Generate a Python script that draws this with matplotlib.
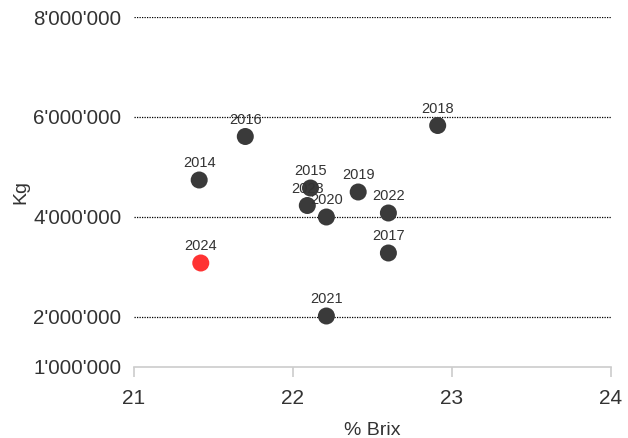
import numpy as np
import matplotlib.pyplot as plt

plt.rcParams['font.family'] = ['Liberation Sans', 'DejaVu Sans']

# values
years = ['2014', '2015', '2016', '2017', '2018', '2019', '2020', '2021', '2022', '2023', '2024']
brix = [21.41, 22.11, 21.70, 22.60, 22.91, 22.41, 22.21, 22.21, 22.60, 22.09, 21.42]
kg = [4.74e6, 4.58e6, 5.61e6, 3.28e6, 5.83e6, 4.50e6, 4.00e6, 2.02e6, 4.08e6, 4.23e6, 3.08e6]

yticks = [1e6, 2e6, 4e6, 6e6, 8e6]
ytick_labels = ["1'000'000", "2'000'000", "4'000'000", "6'000'000", "8'000'000"]
xticks = [21, 22, 23, 24]

colors = ['#ff3333' if y == '2024' else '#3a3a3a' for y in years]

fig = plt.figure(figsize=(6.28, 4.38), dpi=100)
ax = fig.add_axes([134/628, 1 - 367/438, (611-134)/628, (367-17)/438])

ax.scatter(brix, kg, s=150, c=colors, zorder=3, edgecolors='none')

for x, y, t in zip(brix, kg, years):
    ax.annotate(t, (x, y), xytext=(0, 7), textcoords='offset points',
                ha='center', va='bottom', fontsize=10.5, color='#333333', zorder=4)

ax.set_xlim(21, 24)
ax.set_ylim(1e6, 8e6)
ax.set_xticks(xticks)
ax.set_yticks(yticks)
ax.set_yticklabels(ytick_labels)

# dotted grid lines, skip the bottom one (axis line sits there)
for v in yticks[1:]:
    ax.axhline(v, color='black', linestyle=(0, (1, 1)), linewidth=0.9, zorder=1)

for s in ['top', 'right', 'left']:
    ax.spines[s].set_visible(False)
ax.spines['bottom'].set_color('#cccccc')
ax.spines['bottom'].set_linewidth(1.2)

ax.tick_params(axis='x', colors='#cccccc', length=7, width=1.2, labelcolor='#333333',
               labelsize=15, pad=9)
ax.tick_params(axis='y', length=0, labelcolor='#333333', labelsize=14.8, pad=9)

ax.set_xlabel('% Brix', fontsize=14, color='#333333', labelpad=10)
ax.set_ylabel('Kg', fontsize=14, color='#333333', labelpad=3)

plt.savefig('out.png', dpi=100)
